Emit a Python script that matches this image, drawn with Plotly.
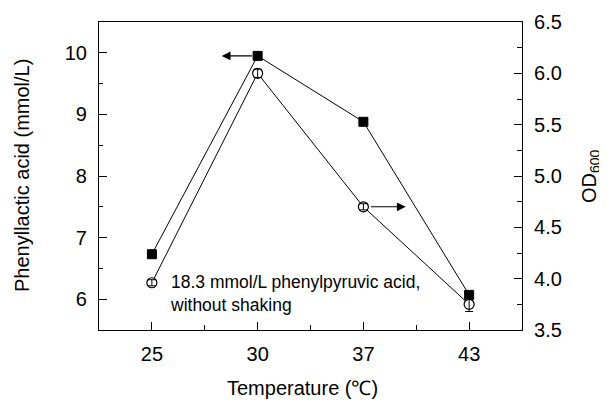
import plotly.graph_objects as go

# ---- data ----
temperatures = ["25", "30", "37", "43"]
phenyllactic = [6.73, 9.95, 8.88, 6.07]          # mmol/L, left axis
od600 = [3.96, 6.00, 4.70, 3.75]                 # right axis
od600_err = [0.03, 0.04, 0.03, 0.07]
note_text = "18.3 mmol/L phenylpyruvic acid,<br>without shaking"

xi = list(range(len(temperatures)))
FONT = "Liberation Sans, Arial, sans-serif"

fig = go.Figure()

fig.add_trace(go.Scatter(
    x=xi, y=phenyllactic, mode="lines+markers", yaxis="y",
    line=dict(color="black", width=1),
    marker=dict(symbol="square", size=9, color="black", line=dict(color="black", width=1)),
    showlegend=False,
))

fig.add_trace(go.Scatter(
    x=xi, y=od600, mode="lines+markers", yaxis="y2",
    line=dict(color="black", width=1),
    marker=dict(symbol="circle", size=10, color="white", line=dict(color="black", width=1.2)),
    showlegend=False,
))
# error bars drawn over the open circles
fig.add_trace(go.Scatter(
    x=xi, y=od600, mode="markers", yaxis="y2",
    marker=dict(size=10, color="rgba(0,0,0,0)"),
    error_y=dict(type="data", array=od600_err, color="black", thickness=1, width=4),
    showlegend=False, hoverinfo="skip",
))

# arrows pointing to respective axes
fig.add_annotation(x=xi[1] - 0.34, y=phenyllactic[1], xref="x", yref="y",
                   ax=xi[1], ay=phenyllactic[1], axref="x", ayref="y",
                   text="", showarrow=True, arrowhead=2, arrowsize=1.6,
                   arrowwidth=1.1, arrowcolor="black", startstandoff=4)
fig.add_annotation(x=xi[2] + 0.40, y=od600[2], xref="x", yref="y2",
                   ax=xi[2], ay=od600[2], axref="x", ayref="y2",
                   text="", showarrow=True, arrowhead=2, arrowsize=1.6,
                   arrowwidth=1.1, arrowcolor="black", startstandoff=6)

fig.add_annotation(x=xi[0] + 0.15, y=od600[0], xref="x", yref="y2",
                   text=note_text, showarrow=False, xanchor="left", yanchor="top",
                   yshift=13, align="left",
                   font=dict(family=FONT, size=17.5, color="black"))

# axis titles as annotations for exact placement
fig.add_annotation(x=0, y=0.5, xref="paper", yref="paper", xanchor="center", yanchor="middle",
                   text="Phenyllactic acid (mmol/L)", textangle=-90, showarrow=False, xshift=-77,
                   font=dict(family=FONT, size=20, color="black"))
fig.add_annotation(x=0.5, y=0, xref="paper", yref="paper", xanchor="center", yanchor="middle",
                   text="Temperature (℃)", showarrow=False, xshift=-8, yshift=-58,
                   font=dict(family=FONT, size=20, color="black"))
fig.add_annotation(x=1, y=0.5, xref="paper", yref="paper", xanchor="center", yanchor="middle",
                   text="OD<sub>600</sub>", textangle=-90, showarrow=False, xshift=68,
                   font=dict(family=FONT, size=20, color="black"))

# page body has an 8px margin, so the figure is sized/offset to compensate
fig.update_layout(
    width=599, height=393,
    margin=dict(l=91, r=85, t=14, b=71, autoexpand=False),
    paper_bgcolor="white", plot_bgcolor="white",
    font=dict(family=FONT, size=20, color="black"),
    xaxis=dict(
        range=[-0.5, 3.5], tickmode="array", tickvals=xi, ticktext=temperatures,
        ticks="inside", ticklen=8, tickwidth=1, tickcolor="black",
        minor=dict(ticks="inside", ticklen=5, tickwidth=1, tickcolor="black",
                   tickmode="array", tickvals=[0.5, 1.5, 2.5]),
        showline=True, linecolor="black", linewidth=1.2, mirror=True,
        showgrid=False, zeroline=False, automargin=False, ticklabelstandoff=6,
        tickfont=dict(family=FONT, size=20),
    ),
    yaxis=dict(
        range=[5.5, 10.5], tickvals=[6, 7, 8, 9, 10],
        ticks="inside", ticklen=8, tickwidth=1, tickcolor="black",
        minor=dict(ticks="inside", ticklen=4, tickwidth=1, tickcolor="black", dtick=0.5),
        showline=True, linecolor="black", linewidth=1.2,
        showgrid=False, zeroline=False, automargin=False, ticklabelstandoff=7,
        tickfont=dict(family=FONT, size=20),
    ),
    yaxis2=dict(
        overlaying="y", side="right",
        range=[3.5, 6.5], tickvals=[3.5, 4.0, 4.5, 5.0, 5.5, 6.0, 6.5],
        ticktext=["3.5", "4.0", "4.5", "5.0", "5.5", "6.0", "6.5"],
        ticks="inside", ticklen=8, tickwidth=1, tickcolor="black",
        minor=dict(ticks="inside", ticklen=5, tickwidth=1, tickcolor="black", dtick=0.25),
        showline=True, linecolor="black", linewidth=1.2,
        showgrid=False, zeroline=False, automargin=False, ticklabelstandoff=7,
        tickfont=dict(family=FONT, size=20),
    ),
)

fig.write_html("out.html")
